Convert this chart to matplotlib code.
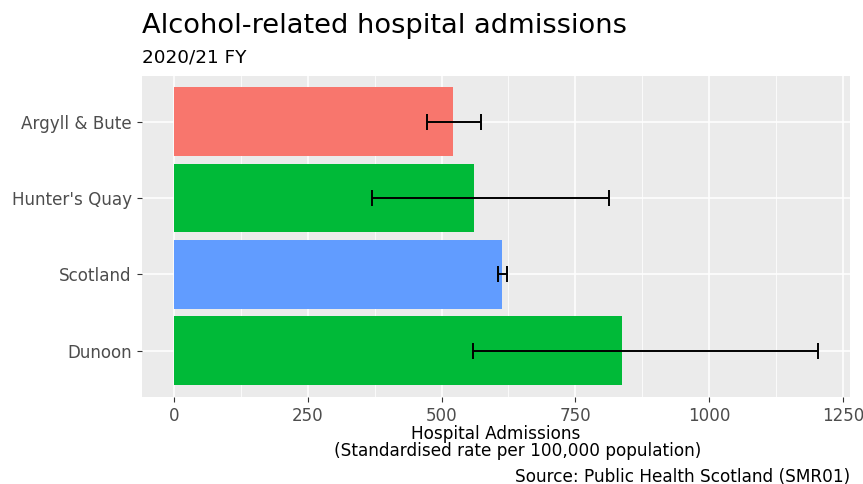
import matplotlib
matplotlib.use('Agg')
import matplotlib.pyplot as plt
from matplotlib.ticker import FixedLocator
import numpy as np

# ---- data ----
areas = ["Argyll & Bute", "Hunter's Quay", "Scotland", "Dunoon"]
rates = [522, 561, 613, 838]
lower_ci = [473, 370, 605, 558]
upper_ci = [573, 813, 622, 1203]
area_types = ["council", "locality", "scotland", "locality"]
x_ticks = [0, 250, 500, 750, 1000, 1250]
x_minor = [125, 375, 625, 875, 1125]

title = "Alcohol-related hospital admissions"
subtitle = "2020/21 FY"
xlabel1 = "Hospital Admissions"
xlabel2 = "(Standardised rate per 100,000 population)"
caption = "Source: Public Health Scotland (SMR01)"

type_colors = {"council": "#F8766D", "locality": "#00BA38", "scotland": "#619CFF"}

plt.rcParams['font.family'] = ['DejaVu Sans']

W, H = 863, 484
fig = plt.figure(figsize=(W / 100, H / 100), dpi=100)
L, R, T, B = 141.7, 850, 75.7, 396.7
ax = fig.add_axes([L / W, 1 - B / H, (R - L) / W, (B - T) / H])
ax.set_facecolor('#EBEBEB')

y = np.arange(len(areas))
ax.barh(y, rates, height=0.9, color=[type_colors[t] for t in area_types], zorder=2)
r = np.array(rates)
err = [r - np.array(lower_ci), np.array(upper_ci) - r]
ax.errorbar(rates, y, xerr=err, fmt='none', ecolor='black', elinewidth=1.4,
            capsize=5.5, capthick=1.4, zorder=3)

hi = max(max(upper_ci), max(rates))
ax.set_xlim(-0.05 * hi, hi * 1.05)
ax.set_ylim(len(areas) - 0.4, -0.6)

ax.set_yticks(y)
ax.set_yticklabels(areas)
ax.xaxis.set_major_locator(FixedLocator(x_ticks))
ax.xaxis.set_minor_locator(FixedLocator(x_minor))
ax.set_xticklabels([str(v) for v in x_ticks])

ax.grid(which='major', axis='both', color='white', linewidth=1.1, zorder=1)
ax.grid(which='minor', axis='x', color='white', linewidth=0.55, zorder=1)
ax.set_axisbelow(True)
for s in ax.spines.values():
    s.set_visible(False)

ax.tick_params(axis='both', which='major', length=3.6, width=0.8, color='#333333',
               labelcolor='#4D4D4D', labelsize=12.1, pad=3.6)
ax.tick_params(axis='x', which='minor', length=0)

fig.text(142.5 / W, 1 - 33.3 / H, title, fontsize=19.6, ha='left', va='baseline', color='black')
fig.text(142.5 / W, 1 - 62.7 / H, subtitle, fontsize=13.2, ha='left', va='baseline', color='black')
cx = (L + R) / 2 / W
fig.text(cx, 1 - 439 / H, xlabel1, fontsize=12.2, ha='center', va='baseline', color='black')
fig.text(517.2 / W, 1 - 456 / H, xlabel2, fontsize=12.2, ha='center', va='baseline', color='black')
fig.text(R / W, 1 - 481.5 / H, caption, fontsize=12.2, ha='right', va='baseline', color='black')

fig.savefig('out.png', dpi=100, facecolor='white')
